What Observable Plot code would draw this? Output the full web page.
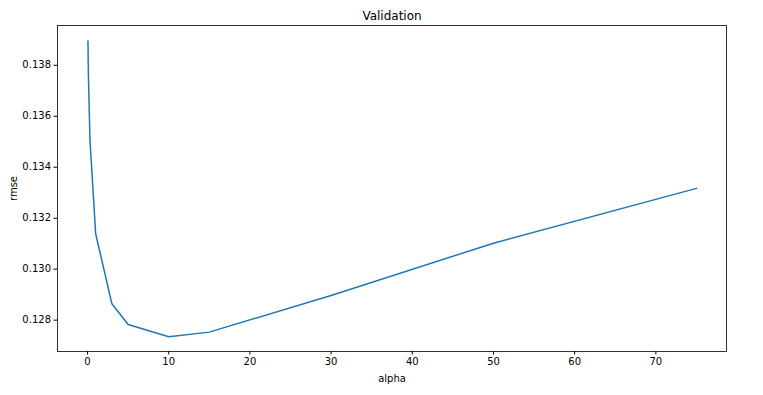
<!DOCTYPE html>
<html>
<head>
<meta charset="utf-8">
<script src="https://cdn.jsdelivr.net/npm/d3@7"></script>
<script src="https://cdn.jsdelivr.net/npm/@observablehq/plot@0.6"></script>
<style>
  html, body { margin: 0; padding: 0; background: #fff; }
</style>
</head>
<body>
<div id="chart"></div>
<script>
const alphas = [0.05, 0.1, 0.3, 1, 3, 5, 10, 15, 30, 50, 75];
const rmse = [0.13895, 0.1377, 0.13507, 0.13139, 0.12864, 0.12783, 0.12735, 0.12753, 0.12897, 0.13102, 0.13317];
const xTicks = [0, 10, 20, 30, 40, 50, 60, 70];
const yTicks = [0.128, 0.130, 0.132, 0.134, 0.136, 0.138];
const title = "Validation";
const xLabel = "alpha";
const yLabel = "rmse";

const data = alphas.map((a, i) => ({alpha: a, rmse: rmse[i]}));

const chart = Plot.plot({
  width: 763,
  height: 395,
  marginLeft: 57,
  marginRight: 37,
  marginTop: 25,
  marginBottom: 44,
  style: {fontFamily: "DejaVu Sans", fontSize: "10px", color: "#000", background: "#fff"},
  x: {domain: [-3.7, 78.7]},
  y: {domain: [0.12677, 0.13956]},
  marks: [
    Plot.frame({stroke: "#000", strokeWidth: 0.8}),
    Plot.axisX({ticks: xTicks, tickSize: 3.5, tickPadding: 3, tickFormat: d => String(d),
      label: xLabel, labelAnchor: "center", labelArrow: "none", labelOffset: 30, fontSize: 10}),
    Plot.axisY({ticks: yTicks, tickSize: 3.5, tickPadding: 3, tickFormat: d3.format(".3f"),
      label: yLabel, labelAnchor: "center", labelArrow: "none", labelOffset: 48, fontSize: 10}),
    Plot.line(data, {x: "alpha", y: "rmse", stroke: "#1f77b4", strokeWidth: 1.5}),
    Plot.text([title], {frameAnchor: "top", dy: -14, text: d => d, fontSize: 12, fill: "#000"})
  ]
});
document.getElementById("chart").appendChild(chart);
</script>
</body>
</html>
